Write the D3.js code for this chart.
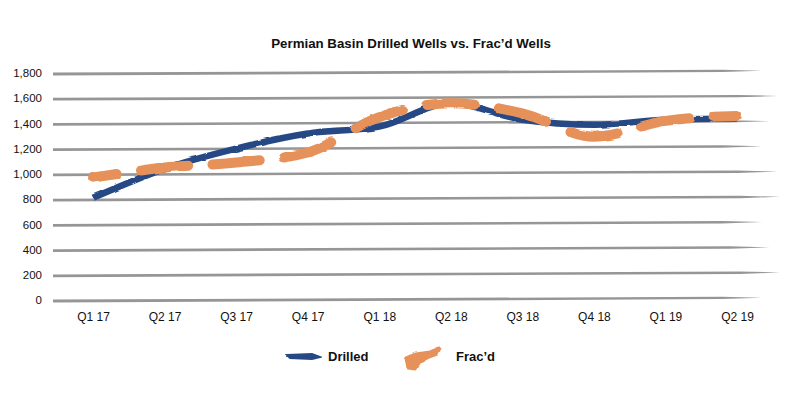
<!DOCTYPE html>
<html>
<head>
<meta charset="utf-8">
<script src="https://cdn.jsdelivr.net/npm/d3@7"></script>
<style>
  body { margin: 0; background: #fff; }
  text { font-family: "Liberation Sans", Arial, Helvetica, sans-serif; fill: #111; }
</style>
</head>
<body>
<div id="chart"></div>
<script>
// quarters on the x axis
var quarters = ["Q1 17", "Q2 17", "Q3 17", "Q4 17", "Q1 18", "Q2 18", "Q3 18", "Q4 18", "Q1 19", "Q2 19"];
// wells per quarter
var drilled = [810, 1040, 1200, 1320, 1375, 1560, 1430, 1390, 1430, 1440];
var fracd = [970, 1050, 1090, 1170, 1450, 1560, 1480, 1295, 1420, 1460];
var yTicks = [0, 200, 400, 600, 800, 1000, 1200, 1400, 1600, 1800];

var svgWidth = 800, svgHeight = 397;

var svg = d3.select("#chart")
  .append("svg")
  .attr("width", svgWidth)
  .attr("height", svgHeight);

// rough brush look
var defs = svg.append("defs");
function roughFilter(id, scale, freq) {
  var f = defs.append("filter").attr("id", id)
    .attr("x", "-5%").attr("y", "-50%").attr("width", "110%").attr("height", "200%");
  f.append("feTurbulence").attr("type", "fractalNoise")
    .attr("baseFrequency", freq).attr("numOctaves", 2).attr("seed", 3).attr("result", "noise");
  f.append("feDisplacementMap").attr("in", "SourceGraphic").attr("in2", "noise")
    .attr("scale", scale).attr("xChannelSelector", "R").attr("yChannelSelector", "G");
}
roughFilter("rough", 2.5, "0.06 0.2");
roughFilter("roughGrid", 1.2, "0.05 0.3");

var xScale = d3.scalePoint()
  .domain(quarters)
  .range([93, 737]);

var yScale = d3.scaleLinear()
  .domain([0, 1800])
  .range([300, 73]);

// title
svg.append("text")
  .attr("x", 411)
  .attr("y", 48)
  .attr("text-anchor", "middle")
  .style("font-size", "13.3px")
  .style("font-weight", "bold")
  .text("Permian Basin Drilled Wells vs. Frac\u2019d Wells");

// gridlines, drawn as tapered grey brush strokes
var gridLeft = 53;
var gridEnds = [762, 780, 770, 762, 780, 778, 762, 770, 778, 762];
var grid = svg.append("g").attr("filter", "url(#roughGrid)");
yTicks.forEach(function(v, i) {
  var y0 = yScale(v) + 1;
  var x1 = gridEnds[i];
  var y1 = yScale(v) - 2;
  var path = d3.path();
  path.moveTo(gridLeft, y0 - 1.4);
  path.lineTo(x1 - 40, y1 - 1.3);
  path.lineTo(x1, y1 - 0.3);
  path.lineTo(x1 - 40, y1 + 1.1);
  path.lineTo(gridLeft, y0 + 1.4);
  path.closePath();
  grid.append("path")
    .attr("d", path.toString())
    .attr("fill", "#969696");
});

// y axis labels
var yAxis = d3.axisLeft(yScale)
  .tickValues(yTicks)
  .tickSize(0)
  .tickPadding(0)
  .tickFormat(d3.format(","));

svg.append("g")
  .attr("transform", "translate(42, 0)")
  .call(yAxis)
  .call(function(g) { g.select(".domain").remove(); })
  .selectAll("text")
  .style("font-size", "11.5px")
  .style("font-family", "\"Liberation Sans\", Arial, sans-serif")
  .attr("fill", "#111");

// x axis labels
var xAxis = d3.axisBottom(xScale)
  .tickSize(0)
  .tickPadding(0);

svg.append("g")
  .attr("transform", "translate(0, 312)")
  .call(xAxis)
  .call(function(g) { g.select(".domain").remove(); })
  .selectAll("text")
  .style("font-size", "12px")
  .style("font-family", "\"Liberation Sans\", Arial, sans-serif")
  .attr("fill", "#111");

var line = d3.line()
  .x(function(d, i) { return xScale(quarters[i]); })
  .y(function(d) { return yScale(d); })
  .curve(d3.curveMonotoneX);

// Drilled: continuous blue stroke
svg.append("path")
  .datum(drilled)
  .attr("d", line)
  .attr("fill", "none")
  .attr("stroke", "#284a85")
  .attr("stroke-width", 6.5)
  .attr("stroke-linecap", "butt")
  .attr("filter", "url(#rough)");

// Frac'd: orange dashes centred on each quarter
var fracPath = svg.append("path")
  .datum(fracd)
  .attr("d", line)
  .attr("fill", "none")
  .attr("stroke", "#e6915a")
  .attr("stroke-width", 10)
  .attr("stroke-linecap", "round")
  .attr("filter", "url(#rough)");

var node = fracPath.node();
var total = node.getTotalLength();
function lengthAtX(x) {
  var lo = 0, hi = total;
  for (var k = 0; k < 30; k++) {
    var mid = (lo + hi) / 2;
    if (node.getPointAtLength(mid).x < x) lo = mid; else hi = mid;
  }
  return (lo + hi) / 2;
}
var half = xScale.step() * 0.33;
var stops = [];
quarters.forEach(function(q, i) {
  var cx = xScale(q);
  stops.push(i === 0 ? 0 : lengthAtX(cx - half));
  stops.push(i === quarters.length - 1 ? total : lengthAtX(cx + half));
});
var dash = [];
for (var s = 1; s < stops.length; s++) {
  dash.push(Math.max(0.1, stops[s] - stops[s - 1]));
}
dash.push(total);
fracPath.attr("stroke-dasharray", dash.join(" "));

// legend
var legend = svg.append("g");
legend.append("path")
  .attr("d", "M287,355 L312,354 L320,357 L312,359 L290,358 Z")
  .attr("fill", "#284a85")
  .attr("stroke", "#284a85")
  .attr("stroke-width", 2)
  .attr("filter", "url(#rough)");
legend.append("text")
  .attr("x", 328).attr("y", 361)
  .style("font-size", "13px").style("font-weight", "bold")
  .text("Drilled");

legend.append("path")
  .attr("d", "M408,368 L406,358 L416,354 L430,352 L440,348 L437,354 L429,357 L420,362 L415,369 Z")
  .attr("fill", "#e6915a")
  .attr("stroke", "#e6915a")
  .attr("stroke-width", 3)
  .attr("stroke-linejoin", "round")
  .attr("filter", "url(#rough)");
legend.append("text")
  .attr("x", 456).attr("y", 361)
  .style("font-size", "13px").style("font-weight", "bold")
  .text("Frac\u2019d");
</script>
</body>
</html>
